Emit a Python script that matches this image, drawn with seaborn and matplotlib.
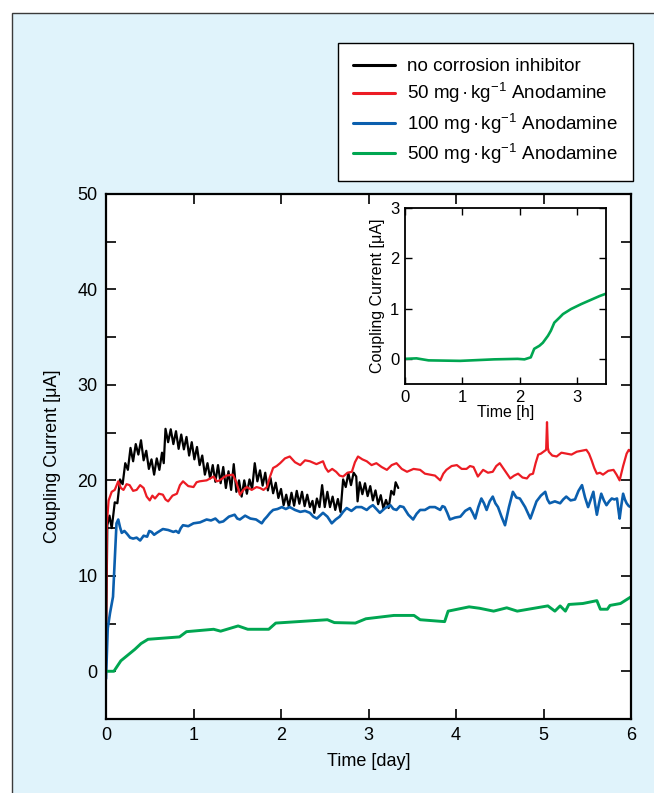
import numpy as np
import matplotlib
matplotlib.use('Agg')
import matplotlib.pyplot as plt
import seaborn as sns
from matplotlib.patches import Rectangle
from matplotlib.ticker import MultipleLocator

# values (time in days, current in uA)
black_t = [0.0, 0.015, 0.04, 0.065, 0.085,
           0.10, 0.13, 0.16, 0.19, 0.22, 0.25, 0.28, 0.31, 0.34, 0.37, 0.40, 0.43, 0.46, 0.49,
           0.52, 0.55, 0.58, 0.61, 0.64, 0.66, 0.68, 0.71, 0.74, 0.77, 0.80, 0.83, 0.86, 0.89,
           0.92, 0.95, 0.98, 1.01, 1.04, 1.07, 1.10, 1.13, 1.16, 1.19, 1.22, 1.25, 1.28, 1.31,
           1.34, 1.37, 1.40, 1.43, 1.46, 1.49, 1.52, 1.55, 1.58, 1.61, 1.64, 1.67, 1.70, 1.73,
           1.76, 1.79, 1.82, 1.85, 1.88, 1.91, 1.94, 1.97, 2.00, 2.03, 2.06, 2.09, 2.12, 2.15,
           2.18, 2.21, 2.24, 2.27, 2.30, 2.33, 2.36, 2.38, 2.41, 2.44, 2.47, 2.50, 2.53, 2.56,
           2.59, 2.62, 2.65, 2.68, 2.71, 2.74, 2.77, 2.80, 2.83, 2.86, 2.875, 2.90, 2.93, 2.96,
           2.99, 3.02, 3.05, 3.08, 3.11, 3.14, 3.17, 3.20, 3.23, 3.26, 3.29, 3.31, 3.34]
black_i = [2.0, 15.3, 16.3, 15.0, 16.5,
           17.7, 17.6, 20.1, 19.6, 21.8, 21.1, 23.4, 22.0, 23.8, 22.7, 24.2, 22.1, 23.1, 21.2,
           22.2, 20.6, 22.3, 21.1, 22.9, 21.8, 25.4, 24.0, 25.35, 23.8, 25.15, 23.3, 24.8, 23.25,
           24.55, 22.6, 24.0, 22.2, 23.5, 21.6, 22.6, 20.6, 21.8, 20.2, 21.6, 19.85, 21.6, 19.7,
           21.4, 19.2, 20.95, 19.0, 21.7, 18.8, 20.0, 18.3, 20.0, 18.6, 20.1, 19.1, 21.8, 19.9,
           21.05, 19.45, 20.8, 18.95, 20.25, 18.65, 19.75, 18.15, 19.1, 17.4, 18.5, 17.2, 18.7, 17.35,
           18.9, 17.55, 18.8, 17.3, 18.5, 17.2, 17.85, 16.6, 18.1, 17.2, 19.5, 17.2, 18.8, 17.2,
           18.3, 16.9, 18.05, 16.7, 20.1, 19.3, 20.75, 19.5, 20.8, 20.4, 17.8, 19.8, 18.55, 19.7,
           18.35, 19.4, 17.9, 18.95, 17.5, 18.45, 17.05, 17.95, 17.1, 18.9, 18.5, 19.8, 19.2]

red_t = [0.0, 0.01, 0.03, 0.065, 0.10, 0.14, 0.17, 0.20, 0.235, 0.27, 0.31, 0.35, 0.39, 0.43, 0.465,
         0.50, 0.53, 0.56, 0.605, 0.65, 0.68, 0.71, 0.76, 0.81, 0.845, 0.88, 0.94, 1.00, 1.035, 1.07,
         1.15, 1.23, 1.265, 1.30, 1.375, 1.45, 1.49, 1.53, 1.57, 1.61, 1.665, 1.72, 1.76, 1.80, 1.84,
         1.875, 1.91, 1.95, 1.99, 2.045, 2.10, 2.16, 2.22, 2.275, 2.33, 2.405, 2.48, 2.51, 2.54, 2.585,
         2.63, 2.67, 2.71, 2.76, 2.81, 2.845, 2.88, 2.93, 2.98, 3.035, 3.09, 3.15, 3.21, 3.265, 3.32,
         3.38, 3.44, 3.515, 3.59, 3.645, 3.70, 3.76, 3.82, 3.855, 3.89, 3.95, 4.01, 4.065, 4.12, 4.16,
         4.20, 4.25, 4.31, 4.365, 4.42, 4.46, 4.50, 4.56, 4.62, 4.665, 4.71, 4.76, 4.81, 4.845, 4.88,
         4.91, 4.94, 4.97, 5.00, 5.03, 5.04, 5.05, 5.06, 5.10, 5.15, 5.205, 5.26, 5.32, 5.38, 5.435,
         5.49, 5.52, 5.55, 5.58, 5.61, 5.645, 5.68, 5.74, 5.80, 5.835, 5.87, 5.91, 5.95, 5.975, 6.0]
red_i = [3.3, 15.5, 17.9, 18.8, 19.0, 19.9, 19.2, 19.0, 19.6, 19.5, 18.9, 19.0, 19.5, 19.2, 18.3,
         17.9, 18.4, 18.1, 18.6, 18.5, 18.0, 17.8, 18.4, 18.6, 19.5, 19.9, 19.4, 19.3, 19.8, 19.9,
         20.0, 20.4, 19.9, 20.0, 20.5, 20.6, 19.8, 18.5, 19.0, 19.3, 19.0, 19.3, 19.2, 19.0, 19.3,
         20.4, 21.3, 21.5, 21.8, 22.3, 22.5, 21.9, 21.6, 22.1, 22.0, 21.7, 22.0, 21.3, 20.9, 21.2,
         20.9, 20.5, 20.4, 20.8, 20.9, 21.9, 22.5, 22.2, 22.0, 21.6, 21.8, 21.4, 21.1, 21.6, 21.8,
         21.2, 20.9, 21.2, 21.1, 20.7, 20.6, 20.5, 20.0, 20.7, 21.1, 21.5, 21.6, 21.2, 21.2, 21.5,
         21.4, 20.4, 21.1, 20.8, 20.9, 21.5, 21.8, 21.0, 20.2, 20.5, 20.7, 20.3, 20.2, 20.6, 20.7,
         21.8, 22.7, 22.8, 23.0, 23.2, 26.1, 23.4, 23.0, 22.6, 22.5, 22.9, 22.8, 22.7, 23.0, 23.1,
         23.2, 22.8, 22.1, 21.3, 20.7, 20.8, 20.6, 21.0, 21.1, 20.6, 20.0, 21.5, 22.8, 23.2, 23.0]

blue_t = [0.0, 0.02, 0.046, 0.08, 0.12, 0.14, 0.16, 0.18, 0.21, 0.24, 0.275, 0.31, 0.35, 0.39, 0.43,
          0.47, 0.495, 0.52, 0.55, 0.58, 0.615, 0.65, 0.71, 0.77, 0.80, 0.83, 0.855, 0.88, 0.94, 1.00,
          1.075, 1.15, 1.20, 1.25, 1.295, 1.34, 1.405, 1.47, 1.50, 1.53, 1.59, 1.65, 1.715, 1.78, 1.81,
          1.84, 1.875, 1.91, 1.96, 2.01, 2.055, 2.10, 2.16, 2.22, 2.275, 2.33, 2.37, 2.41, 2.445, 2.48,
          2.53, 2.58, 2.625, 2.67, 2.71, 2.75, 2.805, 2.86, 2.92, 2.98, 3.015, 3.05, 3.09, 3.13, 3.19,
          3.25, 3.285, 3.32, 3.36, 3.40, 3.455, 3.51, 3.55, 3.59, 3.645, 3.70, 3.76, 3.82, 3.845, 3.87,
          3.90, 3.93, 3.99, 4.05, 4.105, 4.16, 4.19, 4.22, 4.255, 4.29, 4.32, 4.35, 4.385, 4.42, 4.45,
          4.48, 4.52, 4.56, 4.605, 4.65, 4.69, 4.73, 4.79, 4.85, 4.885, 4.92, 4.97, 5.02, 5.045, 5.07,
          5.13, 5.19, 5.225, 5.26, 5.31, 5.36, 5.40, 5.44, 5.475, 5.51, 5.54, 5.57, 5.59, 5.61, 5.635,
          5.66, 5.69, 5.72, 5.75, 5.78, 5.81, 5.84, 5.855, 5.87, 5.89, 5.91, 5.93, 5.95, 5.975, 6.0]
blue_i = [-0.8, 4.5, 6.1, 7.8, 15.5, 15.9, 15.1, 14.5, 14.7, 14.4, 14.0, 13.9, 14.0, 13.7, 14.2,
          14.1, 14.7, 14.6, 14.3, 14.5, 14.7, 14.9, 14.8, 14.6, 14.7, 14.5, 15.0, 15.3, 15.2, 15.5,
          15.6, 15.9, 15.8, 16.0, 15.6, 15.7, 16.2, 16.4, 16.0, 15.9, 16.3, 16.0, 15.9, 15.5, 15.9,
          16.2, 16.6, 16.9, 17.0, 17.2, 17.0, 17.2, 16.9, 16.7, 16.8, 16.6, 16.2, 16.0, 16.3, 16.6,
          16.2, 15.5, 15.9, 16.2, 16.7, 17.1, 16.8, 17.2, 17.2, 16.9, 17.2, 17.4, 17.0, 16.6, 17.1,
          17.4, 17.0, 16.9, 17.3, 17.2, 16.4, 15.9, 16.5, 16.9, 16.9, 17.2, 17.2, 16.9, 17.3, 17.2,
          16.6, 15.9, 16.1, 16.2, 16.8, 17.1, 16.6, 16.0, 17.2, 18.1, 17.6, 16.9, 17.8, 18.3, 17.6,
          17.2, 16.2, 15.3, 17.2, 18.8, 18.2, 18.1, 17.2, 16.0, 16.9, 17.8, 18.4, 18.8, 18.0, 17.6,
          17.8, 17.6, 18.0, 18.3, 17.9, 18.0, 18.9, 19.5, 18.2, 17.2, 18.0, 18.8, 17.5, 16.4, 17.6,
          18.6, 17.9, 17.4, 17.8, 18.1, 18.0, 18.1, 17.0, 16.0, 17.4, 18.6, 18.0, 17.6, 17.3, 17.2]

green_t = [0.0, 0.09, 0.17, 0.33, 0.40, 0.48, 0.84, 0.92, 1.23, 1.31, 1.51, 1.62, 1.86, 1.94, 2.53,
           2.61, 2.85, 2.97, 3.29, 3.52, 3.59, 3.87, 3.91, 4.15, 4.27, 4.43, 4.58, 4.70, 5.05, 5.13,
           5.19, 5.25, 5.29, 5.45, 5.61, 5.65, 5.73, 5.76, 5.88, 6.0]
green_i = [0.0, 0.0, 1.1, 2.3, 2.9, 3.35, 3.6, 4.15, 4.4, 4.2, 4.75, 4.4, 4.4, 5.05, 5.4,
           5.1, 5.05, 5.5, 5.85, 5.85, 5.4, 5.2, 6.3, 6.75, 6.6, 6.3, 6.65, 6.3, 6.85, 6.3,
           6.85, 6.3, 7.0, 7.1, 7.4, 6.5, 6.5, 6.9, 7.1, 7.8]

# inset: first hours, 500 mg/kg
inset_t = [0.0, 0.2, 0.41, 0.96, 1.55, 1.96, 2.08, 2.19, 2.25, 2.34, 2.40, 2.49, 2.54, 2.60, 2.69,
           2.75, 2.89, 3.07, 3.25, 3.39, 3.51]
inset_i = [0.0, 0.01, -0.03, -0.04, -0.01, 0.0, -0.01, 0.03, 0.2, 0.26, 0.32, 0.46, 0.56, 0.72, 0.82,
           0.89, 0.99, 1.09, 1.18, 1.25, 1.30]

labels = ['no corrosion inhibitor',
          r'50 mg$\,$·$\,$kg$^{-1}$ Anodamine',
          r'100 mg$\,$·$\,$kg$^{-1}$ Anodamine',
          r'500 mg$\,$·$\,$kg$^{-1}$ Anodamine']
colors = ['#000000', '#ec1c24', '#0b5fae', '#00a651']

sns.set_style('ticks')
plt.rcParams['font.family'] = ['Liberation Sans', 'DejaVu Sans']
plt.rcParams['mathtext.fontset'] = 'custom'
plt.rcParams['mathtext.rm'] = 'Liberation Sans'
plt.rcParams['mathtext.it'] = 'Liberation Sans:italic'
plt.rcParams['mathtext.default'] = 'regular'
for k in ['text.color', 'axes.labelcolor', 'xtick.color', 'ytick.color']:
    plt.rcParams[k] = 'black'

W, H = 654, 793
fig = plt.figure(figsize=(W / 100, H / 100), dpi=100)
fig.patch.set_facecolor('white')
panel = Rectangle((12 / W, -0.01), 1, 1.01 - 13 / H, transform=fig.transFigure,
                  facecolor='#e0f3fb', edgecolor='#3a3a3a', lw=1.0, zorder=-10)
fig.patches.append(panel)

ax = fig.add_axes([106 / W, 74 / H, 525 / W, 525 / H])
ax.set_facecolor('white')
series = [(black_t, black_i, 1.6), (red_t, red_i, 1.6), (blue_t, blue_i, 1.9), (green_t, green_i, 2.1)]
handles = []
for (t, i, lw), c, lab in zip(series, colors, labels):
    sns.lineplot(x=t, y=i, ax=ax, color=c, lw=lw, estimator=None, sort=False)
    handles.append(plt.Line2D([], [], color=c, lw=2.2, label=lab))

ax.set_xlim(0, 6)
ax.set_ylim(-5, 50)
ax.xaxis.set_major_locator(MultipleLocator(1))
ax.yaxis.set_major_locator(MultipleLocator(10))
ax.yaxis.set_minor_locator(MultipleLocator(5))
ax.tick_params(which='both', direction='in', top=True, right=True, labelsize=13,
               colors='black', width=1.2, pad=6)
ax.tick_params(which='major', length=7)
ax.tick_params(which='minor', length=7)
for s in ax.spines.values():
    s.set_linewidth(1.6)
    s.set_color('black')
ax.set_xlabel('Time [day]', fontsize=13, labelpad=6)
ax.set_ylabel('Coupling Current [μA]', fontsize=13, labelpad=12)

ins = fig.add_axes([405 / W, 409 / H, 201 / W, 176 / H])
ins.set_facecolor('white')
sns.lineplot(x=inset_t, y=inset_i, ax=ins, color=colors[3], lw=1.9, estimator=None, sort=False)
ins.set_xlim(0, 3.5)
ins.set_ylim(-0.5, 3)
ins.xaxis.set_major_locator(MultipleLocator(1))
ins.yaxis.set_major_locator(MultipleLocator(1))
ins.tick_params(direction='in', top=True, right=True, labelsize=12, length=5, width=1.0,
                colors='black', pad=4)
for s in ins.spines.values():
    s.set_linewidth(1.3)
    s.set_color('black')
ins.set_xlabel('Time [h]', fontsize=11.5, labelpad=0)
ins.set_ylabel('Coupling Current [μA]', fontsize=11.5, labelpad=4)

leg = fig.legend(handles=handles, loc='upper right', bbox_to_anchor=(633 / W, 1 - 43 / H),
                 fontsize=13.5, frameon=True, fancybox=False, edgecolor='black', framealpha=1,
                 handlelength=2.25, handletextpad=0.64, labelspacing=0.33, borderpad=0.8,
                 borderaxespad=0)
leg.get_frame().set_linewidth(1.0)
leg.get_frame().set_facecolor('white')

fig.savefig('out.png', dpi=100)
